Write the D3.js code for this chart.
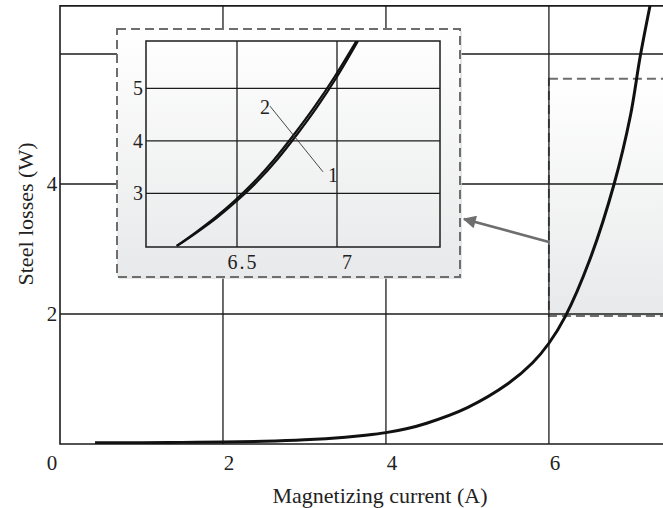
<!DOCTYPE html>
<html>
<head>
<meta charset="utf-8">
<script src="https://cdn.jsdelivr.net/npm/d3@7/dist/d3.min.js"></script>
<style>
  body { margin: 0; background: #fff; }
  svg { display: block; }
  text { font-family: "Liberation Serif", "Times New Roman", serif; fill: #222; }
</style>
</head>
<body>
<svg id="chart" width="663" height="508"></svg>
<script>
// main curve: magnetizing current (A) vs steel losses (W)
const mainCurrent = [0.43, 1.0, 1.5, 2.0, 2.5, 3.0, 3.5, 3.75, 4.0, 4.25, 4.5, 5.0, 5.5, 5.8, 6.0, 6.2, 6.5, 6.8, 7.0, 7.12, 7.25]
const mainLoss    = [0.02, 0.02, 0.025, 0.03, 0.042, 0.065, 0.105, 0.135, 0.175, 0.235, 0.32, 0.56, 0.93, 1.25, 1.55, 1.96, 2.83, 4.0, 5.05, 5.96, 6.8]

// zoomed inset: curves 1 and 2
const insetCurrent1 = [6.2, 6.3, 6.4, 6.5, 6.6, 6.7, 6.8, 6.9, 7.0, 7.105]
const insetCurrent2 = [6.198, 6.294, 6.39, 6.488, 6.586, 6.685, 6.785, 6.886, 6.988, 7.097]
const insetLoss     = [2.0, 2.26, 2.54, 2.86, 3.22, 3.64, 4.12, 4.64, 5.22, 5.9]

const mainXTicks = [0, 2, 4, 6]
const mainYTicks = [2, 4, 6]
const mainYLabels = [2, 4]
const insetXTicks = [6.5, 7]
const insetYTicks = [3, 4, 5]

const svg = d3.select("#chart")
const ink = "#1c1c1c"

// layout
const plot = {left: 60, right: 663, top: 5.9, bottom: 444}
const inset = {left: 117, top: 29, right: 460, bottom: 277}
const insetPlot = {left: 146, right: 440, top: 41, bottom: 247}

const x = d3.scaleLinear().domain([0, 7.4]).range([plot.left, plot.right])
const y = d3.scaleLinear().domain([0, 6.74]).range([plot.bottom, plot.top])
const xi = d3.scaleLinear().domain([6.045, 7.515]).range([insetPlot.left, insetPlot.right])
const yi = d3.scaleLinear().domain([1.98, 5.9]).range([insetPlot.bottom, insetPlot.top])

const defs = svg.append("defs")
const grad = defs.append("linearGradient").attr("id", "boxfill")
    .attr("x1", 0).attr("y1", 0).attr("x2", 0).attr("y2", 1)
grad.append("stop").attr("offset", "0%").attr("stop-color", "#ffffff")
grad.append("stop").attr("offset", "100%").attr("stop-color", "#e8e9ea")

defs.append("clipPath").attr("id", "plotclip")
    .append("rect")
    .attr("x", plot.left).attr("y", plot.top)
    .attr("width", plot.right - plot.left).attr("height", plot.bottom - plot.top)

defs.append("clipPath").attr("id", "insetclip")
    .append("rect")
    .attr("x", insetPlot.left).attr("y", insetPlot.top)
    .attr("width", insetPlot.right - insetPlot.left).attr("height", insetPlot.bottom - insetPlot.top)

defs.append("marker").attr("id", "arrowhead")
    .attr("viewBox", "0 0 10 10").attr("refX", 9).attr("refY", 5)
    .attr("markerWidth", 6).attr("markerHeight", 5).attr("markerUnits", "strokeWidth")
    .attr("orient", "auto")
    .append("path").attr("d", "M0,0 L10,5 L0,10 Z").attr("fill", "#6e6e6e")

// zoom region box (behind grid)
const zoomBox = {x0: 6.0, x1: 7.6, y0: 1.97, y1: 5.62}
svg.append("rect")
    .attr("x", x(zoomBox.x0)).attr("y", y(zoomBox.y1))
    .attr("width", x(zoomBox.x1) - x(zoomBox.x0))
    .attr("height", y(zoomBox.y0) - y(zoomBox.y1))
    .attr("fill", "url(#boxfill)")
    .attr("stroke", "#6e6e6e").attr("stroke-width", 2)
    .attr("stroke-dasharray", "9,5")

// main grid
svg.append("g").selectAll("line").data(mainXTicks.filter(d => d > 0)).join("line")
    .attr("x1", d => x(d)).attr("x2", d => x(d))
    .attr("y1", plot.top).attr("y2", plot.bottom)
    .attr("stroke", ink).attr("stroke-width", 1.3)
svg.append("g").selectAll("line").data(mainYTicks).join("line")
    .attr("x1", plot.left).attr("x2", plot.right)
    .attr("y1", d => y(d)).attr("y2", d => y(d))
    .attr("stroke", ink).attr("stroke-width", 1.3)

// frame
svg.append("path")
    .attr("d", `M${plot.right},${plot.top} H${plot.left} V${plot.bottom} H${plot.right}`)
    .attr("fill", "none").attr("stroke", ink).attr("stroke-width", 1.6)

// main curve
const mainData = mainCurrent.map((c, i) => [c, mainLoss[i]])
const mainLine = d3.line().x(d => x(d[0])).y(d => y(d[1])).curve(d3.curveCatmullRom.alpha(0.5))
svg.append("path")
    .datum(mainData)
    .attr("clip-path", "url(#plotclip)")
    .attr("d", mainLine)
    .attr("fill", "none").attr("stroke", "#111").attr("stroke-width", 3)

// tick labels
svg.append("g").selectAll("text").data(mainXTicks).join("text")
    .attr("x", d => d === 0 ? x(d) - 8 : x(d) + 6)
    .attr("y", 463)
    .attr("text-anchor", "middle").attr("dominant-baseline", "central")
    .attr("font-size", 21)
    .text(d => d)
svg.append("g").selectAll("text").data(mainYLabels).join("text")
    .attr("x", 52).attr("y", d => y(d))
    .attr("text-anchor", "middle").attr("dominant-baseline", "central")
    .attr("font-size", 21)
    .text(d => d)

// axis titles
svg.append("text")
    .attr("x", 380).attr("y", 495)
    .attr("text-anchor", "middle").attr("dominant-baseline", "central")
    .attr("font-size", 22)
    .text("Magnetizing current (A)")
svg.append("text")
    .attr("transform", "translate(25,214) rotate(-90)")
    .attr("text-anchor", "middle").attr("dominant-baseline", "central")
    .attr("font-size", 22)
    .text("Steel losses (W)")

// arrow from zoom box to inset
svg.append("line")
    .attr("x1", x(zoomBox.x0)).attr("y1", 242)
    .attr("x2", inset.right + 4).attr("y2", 219)
    .attr("stroke", "#6e6e6e").attr("stroke-width", 2.6)
    .attr("marker-end", "url(#arrowhead)")

// inset panel
svg.append("rect")
    .attr("x", inset.left + 2).attr("y", inset.top + 2)
    .attr("width", inset.right - inset.left).attr("height", inset.bottom - inset.top)
    .attr("fill", "#dcdcdc").attr("opacity", 0.7)
svg.append("rect")
    .attr("x", inset.left).attr("y", inset.top)
    .attr("width", inset.right - inset.left).attr("height", inset.bottom - inset.top)
    .attr("fill", "url(#boxfill)")
    .attr("stroke", "#6e6e6e").attr("stroke-width", 2)
    .attr("stroke-dasharray", "9,5")

svg.append("g").selectAll("line").data(insetXTicks).join("line")
    .attr("x1", d => xi(d)).attr("x2", d => xi(d))
    .attr("y1", insetPlot.top).attr("y2", insetPlot.bottom)
    .attr("stroke", ink).attr("stroke-width", 1.3)
svg.append("g").selectAll("line").data(insetYTicks).join("line")
    .attr("x1", insetPlot.left).attr("x2", insetPlot.right)
    .attr("y1", d => yi(d)).attr("y2", d => yi(d))
    .attr("stroke", ink).attr("stroke-width", 1.3)
svg.append("rect")
    .attr("x", insetPlot.left).attr("y", insetPlot.top)
    .attr("width", insetPlot.right - insetPlot.left).attr("height", insetPlot.bottom - insetPlot.top)
    .attr("fill", "none").attr("stroke", ink).attr("stroke-width", 1.5)

const insetLine = d3.line().x(d => xi(d[0])).y(d => yi(d[1])).curve(d3.curveCatmullRom.alpha(0.5))
const insetSeries = [insetCurrent1, insetCurrent2].map(xs => xs.map((c, i) => [c, insetLoss[i]]))
svg.append("g").attr("clip-path", "url(#insetclip)")
    .selectAll("path").data(insetSeries)
    .join("path")
    .attr("d", insetLine)
    .attr("fill", "none").attr("stroke", "#111").attr("stroke-width", 2.2)

svg.append("g").selectAll("text").data(insetXTicks).join("text")
    .attr("x", d => xi(d) + (d === 7 ? 10 : 6)).attr("y", 262)
    .attr("text-anchor", "middle").attr("dominant-baseline", "central")
    .attr("font-size", 20).attr("letter-spacing", d => d === 6.5 ? 2 : 0)
    .text(d => d)
svg.append("g").selectAll("text").data(insetYTicks).join("text")
    .attr("x", 138).attr("y", d => yi(d))
    .attr("text-anchor", "middle").attr("dominant-baseline", "central")
    .attr("font-size", 20)
    .text(d => d)

// curve labels with leader line
const leader = [[6.665, 4.66], [6.93, 3.41]]
svg.append("line")
    .attr("x1", xi(leader[0][0])).attr("y1", yi(leader[0][1]))
    .attr("x2", xi(leader[1][0])).attr("y2", yi(leader[1][1]))
    .attr("stroke", "#333").attr("stroke-width", 0.9)
svg.append("text")
    .attr("x", xi(leader[0][0]) - 5).attr("y", yi(leader[0][1]) + 1)
    .attr("text-anchor", "middle").attr("dominant-baseline", "central")
    .attr("font-size", 20).text("2")
svg.append("text")
    .attr("x", xi(leader[1][0]) + 10).attr("y", yi(leader[1][1]) + 3)
    .attr("text-anchor", "middle").attr("dominant-baseline", "central")
    .attr("font-size", 20).text("1")
</script>
</body>
</html>
